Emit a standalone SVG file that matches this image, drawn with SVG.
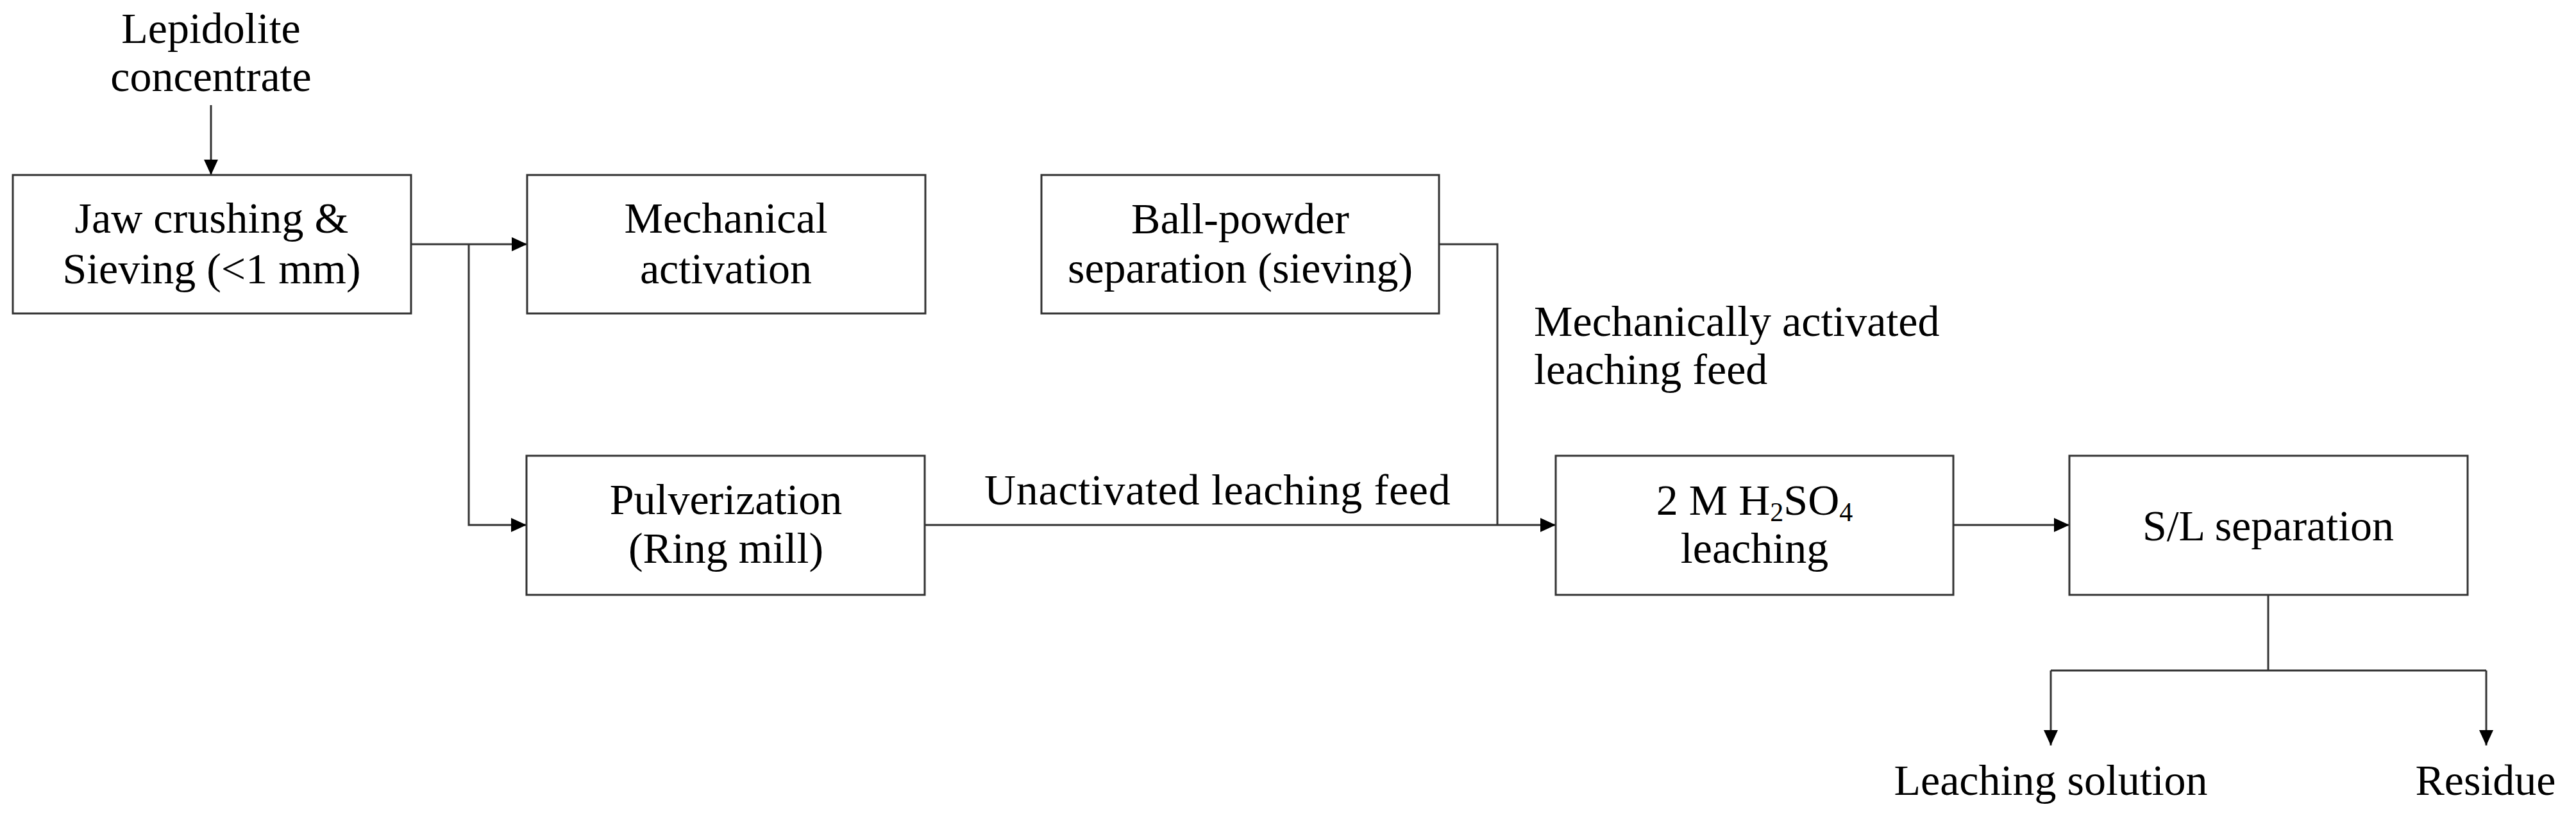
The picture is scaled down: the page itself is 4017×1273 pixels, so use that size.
<svg xmlns="http://www.w3.org/2000/svg" width="4017" height="1273" viewBox="0 0 4017 1273">
<style>
.box{fill:#ffffff;stroke:#333333;stroke-width:3}
.ln{fill:none;stroke:#333333;stroke-width:3}
.t{font-family:"Liberation Serif","Times New Roman",serif;font-size:68px;fill:#000000}
.c{text-anchor:middle}
</style>
<defs>
<marker id="arr" viewBox="0 0 24 22" refX="24" refY="11" markerWidth="24" markerHeight="22" markerUnits="userSpaceOnUse" orient="auto">
<path d="M0,0 L24,11 L0,22 Z" fill="#000000"/>
</marker>
</defs>
<rect width="4017" height="1273" fill="#ffffff"/>

<g id="connectors">
<path class="ln" d="M329,164 V273" marker-end="url(#arr)"/>
<path class="ln" d="M641,381 H822" marker-end="url(#arr)"/>
<path class="ln" d="M731,381 V819 H821" marker-end="url(#arr)"/>
<path class="ln" d="M2244,381 H2335 V819"/>
<path class="ln" d="M1442,819 H2426" marker-end="url(#arr)"/>
<path class="ln" d="M3046,819 H3227" marker-end="url(#arr)"/>
<path class="ln" d="M3537,928 V1046"/>
<path class="ln" d="M3198,1046 H3877"/>
<path class="ln" d="M3198,1046 V1163" marker-end="url(#arr)"/>
<path class="ln" d="M3877,1046 V1163" marker-end="url(#arr)"/>
</g>

<g id="input">
<text class="t c" x="329" y="67">Lepidolite</text>
<text class="t c" x="329" y="142">concentrate</text>
</g>

<g id="jaw">
<rect class="box" x="20" y="273" width="621" height="216"/>
<text class="t c" x="330" y="363">Jaw crushing &amp;</text>
<text class="t c" x="330" y="442">Sieving (&lt;1 mm)</text>
</g>

<g id="mech">
<rect class="box" x="822" y="273" width="621" height="216"/>
<text class="t c" x="1132" y="363">Mechanical</text>
<text class="t c" x="1132" y="442">activation</text>
</g>

<g id="ball">
<rect class="box" x="1624" y="273" width="620" height="216"/>
<text class="t c" x="1934" y="364">Ball-powder</text>
<text class="t c" x="1934" y="441">separation (sieving)</text>
</g>

<g id="pulv">
<rect class="box" x="821" y="711" width="621" height="217"/>
<text class="t c" x="1132" y="802">Pulverization</text>
<text class="t c" x="1132" y="878">(Ring mill)</text>
</g>

<g id="leach">
<rect class="box" x="2426" y="711" width="620" height="217"/>
<text class="t c" x="2736" y="803">2 M H<tspan font-size="42" dy="10">2</tspan><tspan dy="-10">SO</tspan><tspan font-size="42" dy="10">4</tspan></text>
<text class="t c" x="2736" y="878">leaching</text>
</g>

<g id="sl">
<rect class="box" x="3227" y="711" width="621" height="217"/>
<text class="t c" x="3537" y="843">S/L separation</text>
</g>

<g id="labels">
<text class="t" x="1535" y="787" letter-spacing="0.7">Unactivated leaching feed</text>
<text class="t" x="2392" y="524">Mechanically activated</text>
<text class="t" x="2392" y="599">leaching feed</text>
</g>

<g id="outputs">
<text class="t c" x="3198" y="1240">Leaching solution</text>
<text class="t c" x="3876" y="1240">Residue</text>
</g>
</svg>
